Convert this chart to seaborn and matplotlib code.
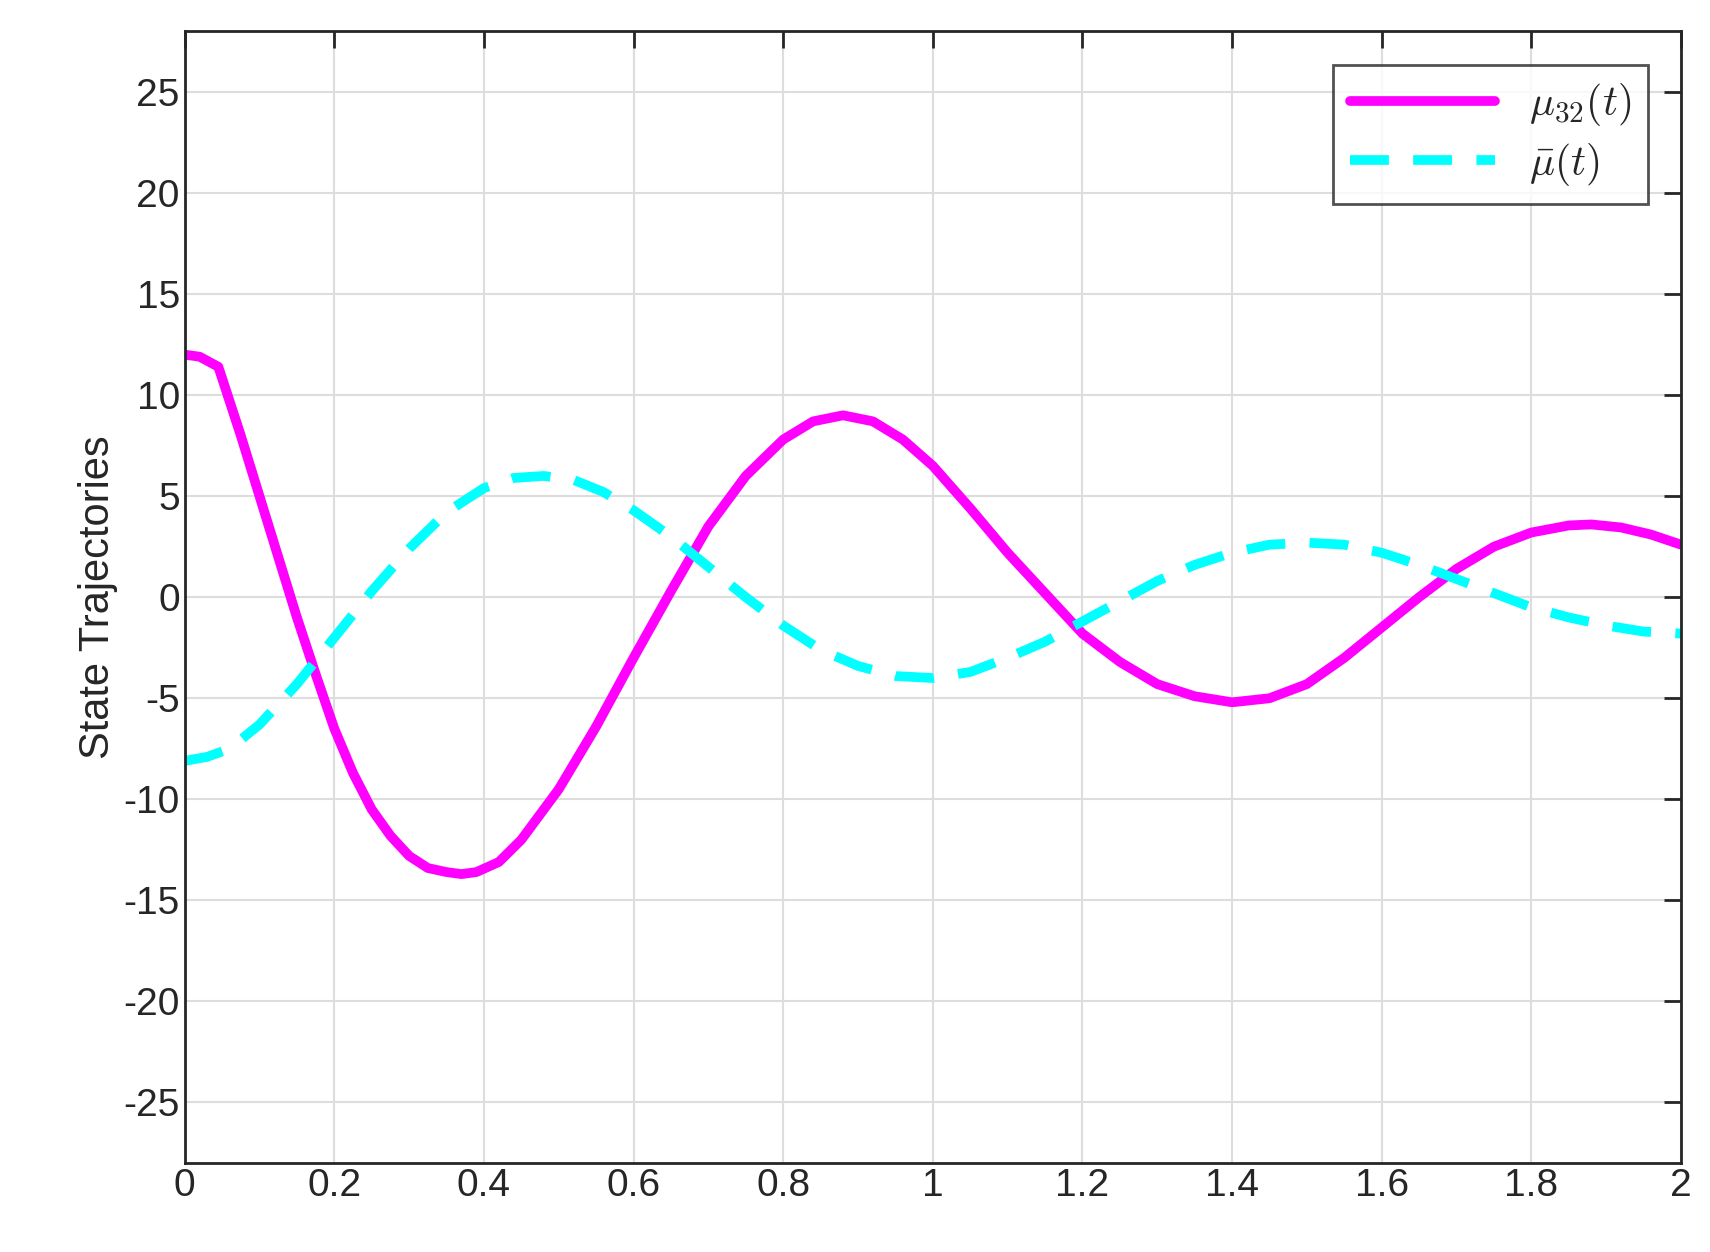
import matplotlib
matplotlib.use("Agg")
import matplotlib.pyplot as plt
import seaborn as sns

t_mu = [0,0.02,0.045,0.075,0.1,0.125,0.15,0.175,0.2,0.225,0.25,0.275,0.3,0.325,0.35,0.37,0.39,0.42,0.45,0.5,0.55,0.6,0.65,0.7,0.75,0.8,0.84,0.88,0.92,0.96,1.0,1.05,1.1,1.15,1.2,1.25,1.3,1.35,1.4,1.45,1.5,1.55,1.6,1.65,1.7,1.75,1.8,1.85,1.88,1.92,1.96,2.0]
mu32 = [12,11.9,11.4,8.0,5,2.0,-1,-3.8,-6.5,-8.7,-10.5,-11.8,-12.8,-13.4,-13.6,-13.7,-13.6,-13.1,-12.0,-9.5,-6.4,-3,0.3,3.5,6.0,7.8,8.7,9,8.7,7.8,6.5,4.4,2.2,0.2,-1.8,-3.2,-4.3,-4.9,-5.2,-5.0,-4.3,-3.0,-1.5,0.0,1.4,2.5,3.2,3.55,3.6,3.45,3.1,2.6]
t_bar = [0,0.03,0.06,0.1,0.15,0.2,0.25,0.3,0.35,0.4,0.44,0.48,0.52,0.56,0.6,0.65,0.7,0.75,0.8,0.85,0.9,0.95,1.0,1.05,1.1,1.15,1.2,1.25,1.3,1.35,1.4,1.45,1.5,1.55,1.6,1.65,1.7,1.75,1.8,1.85,1.9,1.95,2.0]
mubar = [-8.1,-7.9,-7.5,-6.3,-4.3,-2,0.3,2.4,4.2,5.4,5.9,6.0,5.8,5.2,4.3,3.0,1.5,0.0,-1.4,-2.6,-3.4,-3.9,-4.0,-3.7,-3.0,-2.2,-1.2,-0.2,0.8,1.6,2.2,2.6,2.7,2.6,2.2,1.6,0.9,0.2,-0.5,-1.0,-1.4,-1.7,-1.8]

sns.set_style("white")
plt.rcParams['font.family'] = ['Liberation Sans', 'DejaVu Sans']
plt.rcParams['axes.unicode_minus'] = False
plt.rcParams['mathtext.fontset'] = 'cm'
fig = plt.figure(figsize=(17.1, 12.52), dpi=100)
ax = fig.add_axes([0.108, 0.071, 0.875, 0.904])
sns.lineplot(x=t_mu, y=mu32, ax=ax, color='#ff00ff', lw=7, label=r'$\mu_{32}(t)$')
sns.lineplot(x=t_bar, y=mubar, ax=ax, color='#00ffff', lw=7, label=r'$\bar{\mu}(t)$')
ax.lines[1].set_dashes([4, 2.5])
ax.set_xlim(0, 2); ax.set_ylim(-28, 28)
ax.set_xticks([0,0.2,0.4,0.6,0.8,1,1.2,1.4,1.6,1.8,2])
ax.set_xticklabels(['0','0.2','0.4','0.6','0.8','1','1.2','1.4','1.6','1.8','2'])
ax.set_yticks(range(-25, 26, 5))
ax.grid(True, color='#dddddd', lw=1.5)
ax.tick_params(labelsize=28, direction='in', length=12, width=2, top=True, right=True, colors='#262626')
for s in ax.spines.values():
    s.set_color('#262626'); s.set_linewidth(2)
ax.set_ylabel('State Trajectories', fontsize=30, color='#262626')
leg = ax.legend(loc='upper right', fontsize=30, fancybox=False, edgecolor='#262626',
                handlelength=3.5, borderaxespad=0.8, labelspacing=0.3)
leg.get_frame().set_linewidth(2)
fig.savefig('out.png')
